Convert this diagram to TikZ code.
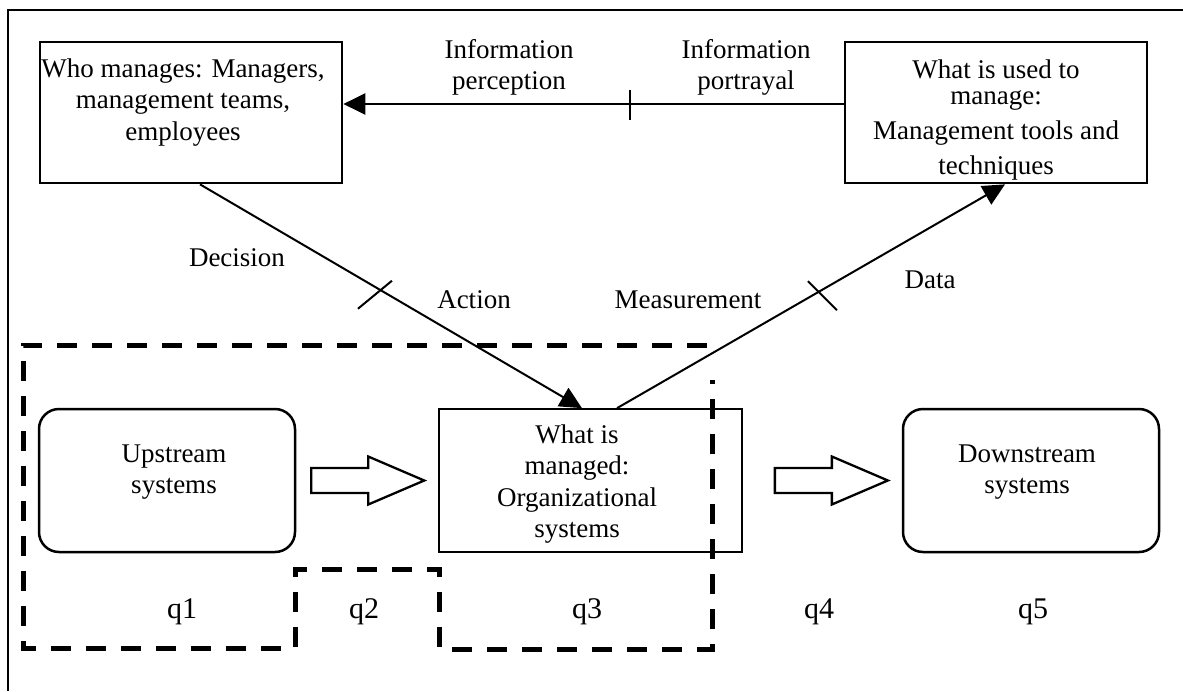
\documentclass[tikz,border=0pt]{standalone}
\usepackage{fontspec}
\setmainfont{Liberation Serif}
\usetikzlibrary{arrows.meta,calc}
% centred multi-line text whose base is the first line's baseline
\newcommand\mltext[1]{\begin{tabular}[t]{@{}c@{}}#1\end{tabular}}
% hollow block arrow: #1 = tail point (shaft centre), length 113
\newcommand\blockarrow[1]{%
  \draw[hollowarrow] ($(#1)+(0,-12.5)$) -- ++(57,0) -- ++(0,-11.5) -- ++(56,24)
    -- ++(-56,24) -- ++(0,-11.5) -- ++(-57,0) -- cycle;}
\begin{document}
\begin{tikzpicture}[x=1pt,y=-1pt,
  txt/.style={font=\fontsize{27}{31.5}\selectfont, inner sep=0pt, anchor=base},
  qlab/.style={font=\fontsize{30}{34}\selectfont, inner sep=0pt, anchor=base},
  sqbox/.style={draw, line width=2.7pt, inner sep=0pt, minimum width=302pt, minimum height=141pt},
  thinbox/.style={draw, line width=1.7pt, inner sep=0pt, minimum width=303pt, minimum height=143pt},
  roundbox/.style={draw, line width=2.5pt, rounded corners=20pt, inner sep=0pt, minimum width=256pt, minimum height=143pt},
  conn/.style={line width=2pt},
  toparrow/.style={line width=2.7pt, -{Triangle[length=22pt,width=21pt]}},
  diagarrow/.style={line width=2pt, -{Triangle[length=22pt,width=21pt]}},
  tick/.style={line width=2pt},
  hollowarrow/.style={draw, line width=2.3pt, line join=miter, fill=white},
  region/.style={line width=5pt, dash pattern=on 20pt off 15pt, line join=miter},
  frame/.style={line width=2.3pt}]
\useasboundingbox (0,0) rectangle (1183,691);

% outer frame (only top and left edges fall inside the page)
\draw[frame] (8,691) -- (8,10) -- (1183,10);

% boxes
\node[sqbox] (A) at (191,112.5) {};
\node[sqbox] (B) at (996,112.5) {};
\node[thinbox] (C) at (590.5,480.5) {};
\node[roundbox] (U) at (167,480.5) {};
\node[roundbox] (D) at (1031,480.5) {};

% box texts
\node[txt] (Atxt) at (183,77) {\mltext{Who manages: Managers,\\ management teams,\\ employees}};
\node[txt, font=\fontsize{27}{26}\selectfont] (Btxt) at (996,78)
  {\mltext{What is used to\\ manage:\\[9pt] Management tools and\\[8pt] techniques}};
\node[txt] (Ctxt) at (577,443) {\mltext{What is\\ managed:\\ Organizational\\ systems}};
\node[txt] (Utxt) at (174,462) {\mltext{Upstream\\ systems}};
\node[txt] (Dtxt) at (1027,462) {\mltext{Downstream\\ systems}};

% information flow at the top
\draw[toparrow] ([yshift=8.5pt]B.west) -- coordinate[pos=0.427] (t1) ([yshift=8.5pt]A.east);
\draw[tick] ($(t1)+(0,-14)$) -- ($(t1)+(0,16)$);
\node[txt] (perc) at (509,58) {\mltext{Information\\ perception}};
\node[txt] (port) at (746,58) {\mltext{Information\\ portrayal}};

% decision / action
\draw[diagarrow] ([xshift=9pt]A.south) -- coordinate[pos=0.471] (t2) ([xshift=-8.5pt]C.north);
\draw[tick] ($(t2)+(-22,19)$) -- ($(t2)+(12,-9)$);
\node[txt] (dec) at (237,266) {Decision};
\node[txt] (act) at (474,308) {Action};

% measurement / data
\draw[diagarrow] ([xshift=26.5pt]C.north) -- coordinate[pos=0.523] (t3) ([xshift=9pt]B.south);
\draw[tick] ($(t3)+(-12,-10)$) -- ($(t3)+(17,19)$);
\node[txt] (meas) at (688,308) {Measurement};
\node[txt] (data) at (930,288) {Data};

% material flow between systems
\coordinate (a1) at ($(U.east)+(15,0)$);
\coordinate (a2) at ($(C.east)+(32,0)$);
\blockarrow{a1}
\blockarrow{a2}

% dashed system boundary
\draw[region] (707,345) -- (23,345) -- (23,648) -- (295,648) -- (295,569)
  -- (439,569) -- (439,649) -- (712,649) -- (712,380);

% quadrant labels
\node[qlab] (q1) at (182,618) {q1};
\node[qlab] (q2) at (364,618) {q2};
\node[qlab] (q3) at (587,618) {q3};
\node[qlab] (q4) at (819,618) {q4};
\node[qlab] (q5) at (1033,618) {q5};
\end{tikzpicture}
\end{document}
